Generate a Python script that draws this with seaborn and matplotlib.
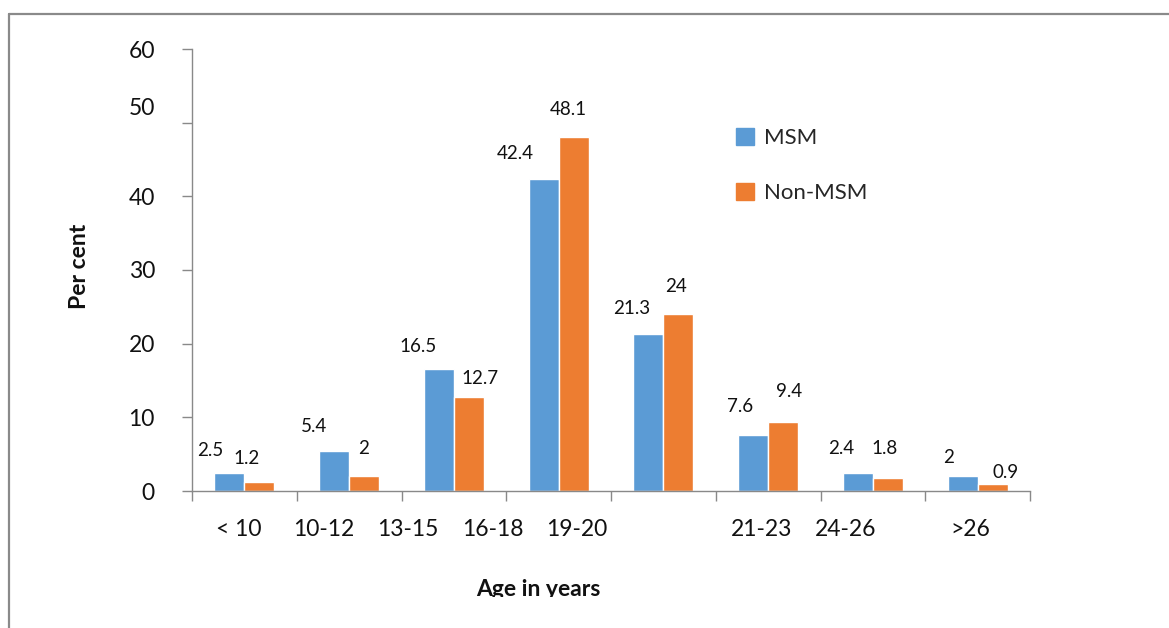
import numpy as np
import pandas as pd
import matplotlib
matplotlib.use("Agg")
import matplotlib.pyplot as plt
from matplotlib.lines import Line2D
from matplotlib.transforms import Bbox, TransformedBbox, ScaledTranslation
import seaborn as sns

# ---- data ----
age_groups = ["< 10", "10-12", "13-15", "16-18", "19-20", "21-23", "24-26", ">26"]
msm = [2.5, 5.4, 16.5, 42.4, 21.3, 7.6, 2.4, 2]
non_msm = [1.2, 2, 12.7, 48.1, 24, 9.4, 1.8, 0.9]
series_names = ["MSM", "Non-MSM"]
y_ticks = [0, 10, 20, 30, 40, 50, 60]

# ---- layout (placement of hand-positioned labels) ----
age_label_x = [-0.057, 0.759, 1.561, 2.37, 3.17, 4.94, 5.74, 6.93]
msm_label_offsets = [(-19.5, 21.6), (-20, 25), (-20.5, 23.4), (-28, 25.6),
                     (-17, 26), (-13, 28.5), (-17, 25.3), (-14, 18.3)]
non_label_offsets = [(-12.5, 24), (-1, 28), (11, 19), (-5, 27.6),
                     (-2.5, 28), (6, 30), (-3, 29.7), (13, 11.4)]

colors = ["#5B9BD5", "#ED7D31"]
axis_grey = "#898989"

df = pd.DataFrame({
    "age": age_groups * 2,
    "pct": msm + non_msm,
    "group": [series_names[0]] * len(age_groups) + [series_names[1]] * len(age_groups),
})

sns.set_theme(style="white")
plt.rcParams["font.family"] = ["Lato", "DejaVu Sans"]

W, H = 1169, 628
fig = plt.figure(figsize=(W / 100, H / 100), dpi=100)
ax = fig.add_axes([192 / W, 1 - 491 / H, (1030 - 192) / W, (491 - 49) / H])

sns.barplot(data=df, x="age", y="pct", hue="group", order=age_groups,
            hue_order=series_names, palette=colors, saturation=1,
            width=0.573, gap=0, ax=ax, legend=False, errorbar=None)

ax.set_xlim(-0.5, len(age_groups) - 0.5)
ax.set_ylim(0, 60)
ax.set_xlabel("")
ax.set_ylabel("")

# spines
for s in ["top", "right"]:
    ax.spines[s].set_visible(False)
for s in ["left", "bottom"]:
    ax.spines[s].set_color(axis_grey)
    ax.spines[s].set_linewidth(1.0)

# y axis
ax.set_yticks(y_ticks)
ax.set_yticklabels([str(v) for v in y_ticks])
ax.tick_params(axis="y", which="major", direction="out", length=7.2, width=1.0,
               color=axis_grey, pad=19.5, labelsize=16.5, labelcolor="#111111", left=True)
# the "50" label sits a little higher than its tick
lbl50 = ax.get_yticklabels()[y_ticks.index(50)]
lbl50.set_transform(lbl50.get_transform() + ScaledTranslation(0, 16 / 100, fig.dpi_scale_trans))

# x axis: tick marks between groups, labels placed separately
ax.set_xticks(np.arange(-0.5, len(age_groups), 1.0))
ax.set_xticklabels([])
ax.set_xticks(age_label_x, minor=True)
ax.set_xticklabels(age_groups, minor=True)
ax.tick_params(axis="x", which="major", direction="out", length=7.2, width=1.0,
               color=axis_grey, bottom=True)
ax.tick_params(axis="x", which="minor", length=0, pad=20, labelsize=16.5,
               labelcolor="#111111", bottom=True)

# value labels
for container, values, offsets in zip(ax.containers, [msm, non_msm],
                                      [msm_label_offsets, non_label_offsets]):
    for bar, v, (dx, dy) in zip(container, values, offsets):
        ax.annotate(f"{v:g}", xy=(bar.get_x() + bar.get_width() / 2, bar.get_height()),
                    xytext=(dx, dy), textcoords="offset pixels",
                    ha="center", va="center", fontsize=13.5, color="#111111")

# legend
handles = [plt.Rectangle((0, 0), 1, 1, color=c) for c in colors]
fig.legend(handles, series_names, loc="upper left",
           bbox_to_anchor=(736 / W, 1 - 128 / H), bbox_transform=fig.transFigure,
           frameon=False, fontsize=16, handlelength=0.8, handleheight=0.8,
           handletextpad=0.45, labelspacing=1.55, borderpad=0, borderaxespad=0)

# axis titles
fig.text(80 / W, 1 - 266 / H, "Per cent", rotation=90, ha="center", va="center",
         fontsize=16.5, fontweight="bold", color="#111111")
xt = fig.text(538 / W, 1 - 596 / H, "Age in years", ha="center", va="baseline",
              fontsize=16.5, fontweight="bold", color="#111111", clip_on=True)
xt.set_clip_box(TransformedBbox(Bbox([[0, 1 - 597 / H], [1, 1]]), fig.transFigure))

# outer chart border (left and top edges)
border_kw = dict(color="#8a8a8a", linewidth=1.6, transform=fig.transFigure)
fig.add_artist(Line2D([9 / W, 9 / W], [0, 1 - 14 / H], **border_kw))
fig.add_artist(Line2D([9 / W, 1], [1 - 14 / H, 1 - 14 / H], **border_kw))

fig.savefig("out.png", dpi=100, facecolor="white")
